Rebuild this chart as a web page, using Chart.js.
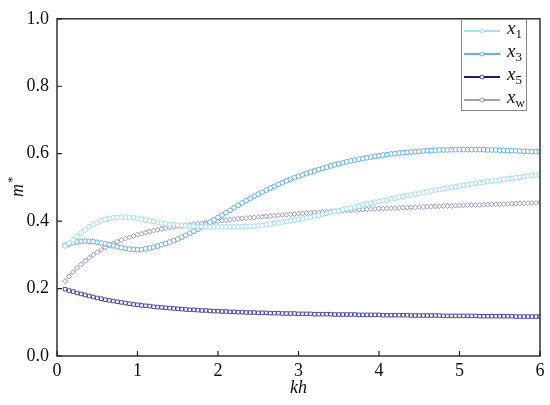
<!DOCTYPE html>
<html>
<head>
<meta charset="utf-8">
<script src="https://cdn.jsdelivr.net/npm/chart.js@4.4.1/dist/chart.umd.min.js"></script>
<style>
html,body{margin:0;padding:0;background:#fff;}
#wrap{width:550px;height:405px;position:relative;}
</style>
</head>
<body>
<div id="wrap"><canvas id="c" width="550" height="405"></canvas></div>
<script>
const kh = [
0.10,0.15,0.20,0.25,0.30,0.35,0.40,0.45,0.50,0.55,
0.60,0.65,0.70,0.75,0.80,0.85,0.90,0.95,1.00,1.05,
1.10,1.15,1.20,1.25,1.30,1.35,1.40,1.45,1.50,1.55,
1.60,1.65,1.70,1.75,1.80,1.85,1.90,1.95,2.00,
2.05,2.10,2.15,2.20,2.25,2.30,2.35,2.40,2.45,2.50,
2.55,2.60,2.65,2.70,2.75,2.80,2.85,2.90,2.95,3.00,
3.05,3.10,3.15,3.20,3.25,3.30,3.35,3.40,3.45,3.50,
3.55,3.60,3.65,3.70,3.75,3.80,3.85,3.90,3.95,4.00,
4.05,4.10,4.15,4.20,4.25,4.30,4.35,4.40,4.45,4.50,
4.55,4.60,4.65,4.70,4.75,4.80,4.85,4.90,4.95,5.00,
5.05,5.10,5.15,5.20,5.25,5.30,5.35,5.40,5.45,5.50,
5.55,5.60,5.65,5.70,5.75,5.80,5.85,5.90,5.95,6.00
];
const x1 = [
.326,.335,.345,.355,.365,.374,.383,.390,.396,.401,
.405,.408,.410,.411,.412,.412,.411,.410,.408,.406,
.403,.401,.399,.396,.394,.392,.390,.389,.388,.387,
.386,.385,.385,.384,.384,.383,.383,.383,.383,
.383,.383,.383,.383,.383,.384,.384,.385,.385,.386,
.387,.389,.391,.393,.395,.397,.399,.401,.403,.405,
.407,.410,.412,.415,.417,.420,.423,.425,.428,.431,
.434,.437,.439,.442,.445,.448,.450,.453,.456,.458,
.461,.463,.466,.468,.471,.473,.476,.478,.480,.483,
.485,.487,.490,.492,.494,.496,.498,.500,.502,.504,
.506,.508,.510,.512,.514,.515,.517,.519,.521,.522,
.524,.526,.527,.529,.530,.532,.534,.535,.537,.538
];
const x3 = [
.328,.332,.336,.338,.340,.341,.340,.339,.337,.335,
.333,.330,.327,.324,.321,.319,.317,.316,.315,.315,
.318,.320,.323,.326,.330,.334,.338,.342,.347,.352,
.358,.364,.370,.376,.383,.390,.397,.404,.411,
.418,.425,.432,.440,.447,.454,.461,.467,.474,.480,
.486,.492,.498,.503,.509,.514,.519,.524,.529,.533,
.537,.541,.545,.549,.553,.557,.560,.564,.567,.570,
.573,.576,.579,.581,.584,.586,.588,.590,.592,.594,
.596,.597,.599,.600,.602,.603,.604,.605,.606,.607,
.608,.609,.609,.610,.611,.611,.611,.612,.612,.612,
.612,.612,.612,.612,.612,.612,.611,.611,.611,.610,
.610,.609,.609,.608,.608,.607,.607,.606,.606,.605
];
const x5 = [
.198,.194,.191,.187,.184,.181,.178,.175,.172,.170,
.167,.165,.163,.161,.159,.157,.155,.153,.152,.150,
.149,.148,.146,.145,.144,.143,.142,.141,.140,.139,
.138,.137,.137,.136,.135,.135,.134,.133,.133,
.132,.132,.131,.131,.130,.130,.129,.129,.129,.128,
.128,.128,.127,.127,.127,.126,.126,.126,.126,.125,
.125,.125,.125,.124,.124,.124,.124,.124,.123,.123,
.123,.123,.123,.123,.122,.122,.122,.122,.122,.122,
.121,.121,.121,.121,.121,.121,.121,.120,.120,.120,
.120,.120,.120,.120,.120,.119,.119,.119,.119,.119,
.119,.119,.119,.119,.118,.118,.118,.118,.118,.118,
.118,.118,.118,.117,.117,.117,.117,.117,.117,.117
];
const xw = [
.222,.236,.249,.261,.272,.282,.291,.300,.308,.315,
.322,.328,.334,.339,.344,.348,.352,.356,.360,.363,
.366,.369,.372,.374,.377,.379,.381,.383,.385,.386,
.388,.389,.391,.392,.394,.395,.397,.398,.400,
.402,.403,.404,.406,.407,.408,.409,.410,.411,.412,
.413,.414,.415,.416,.417,.418,.419,.420,.421,.422,
.423,.424,.425,.426,.426,.427,.428,.429,.430,.430,
.431,.432,.432,.433,.434,.434,.435,.436,.436,.437,
.437,.438,.438,.439,.439,.440,.440,.441,.441,.442,
.442,.443,.443,.444,.444,.445,.445,.445,.446,.446,
.447,.447,.448,.448,.448,.449,.449,.450,.450,.450,
.451,.451,.452,.452,.453,.453,.453,.454,.454,.455
];
const xTicks = [0,1,2,3,4,5,6];
const yTicks = [0.0,0.2,0.4,0.6,0.8,1.0];
const seriesNames = ['1','3','5','w'];
const lineColors = ['#a6e2f4','#6aaef0','#1c1c78','#98a2c2'];
const markColors = ['#96dcf0','#5aa6f0','#3a3aa0','#8c8cbc'];
const markStyles = ['circle','circle','rect','rectRot'];

const seriesVals = [x1,x3,x5,xw];
const datasets = seriesVals.map((vals,i)=>({
  label: 'x' + seriesNames[i],
  data: kh.map((k,j)=>({x:k,y:vals[j]})),
  borderColor: lineColors[i],
  borderWidth: 0.6,
  pointStyle: markStyles[i],
  pointRadius: markStyles[i]==='circle' ? 2.4 : 2.5,
  pointBorderWidth: 0.9,
  pointBorderColor: markColors[i],
  pointBackgroundColor: '#ffffff',
  fill: false,
  tension: 0
}));

const SERIF = '"Liberation Serif", Tinos, "Times New Roman", serif';

const framePlugin = {
  id: 'frame',
  afterDraw(chart){
    const ctx = chart.ctx, a = chart.chartArea;
    const xs = chart.scales.x, ys = chart.scales.y;
    ctx.save();
    ctx.strokeStyle = '#222'; ctx.lineWidth = 1.2;
    ctx.beginPath();
    xTicks.forEach(t=>{ const p = xs.getPixelForValue(t); ctx.moveTo(p, a.bottom); ctx.lineTo(p, a.bottom-5); });
    yTicks.forEach(t=>{ const p = ys.getPixelForValue(t); ctx.moveTo(a.left, p); ctx.lineTo(a.left+5, p); });
    ctx.stroke();
    ctx.strokeStyle = '#222'; ctx.lineWidth = 1.4;
    ctx.strokeRect(a.left, a.top, a.right-a.left, a.bottom-a.top);
    ctx.fillStyle = '#111';
    ctx.font = 'italic 18px ' + SERIF;
    ctx.textAlign = 'center'; ctx.textBaseline = 'alphabetic';
    ctx.fillText('kh', (a.left+a.right)/2, 393);
    ctx.save();
    ctx.translate(23, (a.top+a.bottom)/2);
    ctx.rotate(-Math.PI/2);
    ctx.font = 'italic 18px ' + SERIF;
    ctx.textAlign = 'left';
    const mw = ctx.measureText('m').width;
    ctx.fillText('m', -mw/2-3, 0);
    ctx.font = '13px ' + SERIF;
    ctx.fillText('*', mw/2-2, -7);
    ctx.restore();
    const lx = 461, ly = 19, lw = 65, lh = 91;
    ctx.fillStyle = '#fff';
    ctx.fillRect(lx, ly, lw, lh);
    ctx.strokeStyle = '#888'; ctx.lineWidth = 1;
    ctx.strokeRect(lx+0.5, ly+0.5, lw, lh);
    seriesNames.forEach((n,i)=>{
      const y = 31 + i*23;
      ctx.strokeStyle = lineColors[i]; ctx.lineWidth = 2;
      ctx.beginPath(); ctx.moveTo(464, y); ctx.lineTo(500, y); ctx.stroke();
      ctx.fillStyle = '#fff'; ctx.strokeStyle = markColors[i]; ctx.lineWidth = 0.9;
      ctx.beginPath(); ctx.arc(482, y, 2, 0, Math.PI*2); ctx.fill(); ctx.stroke();
      ctx.fillStyle = '#111';
      ctx.textAlign = 'left'; ctx.textBaseline = 'alphabetic';
      ctx.font = 'italic 19px ' + SERIF;
      ctx.fillText('x', 507, y+3);
      const w = ctx.measureText('x').width;
      ctx.font = (n==='w' ? '' : '') + '13px ' + SERIF;
      ctx.fillText(n, 507+w, y+7);
    });
    ctx.restore();
  }
};

new Chart(document.getElementById('c'), {
  type: 'line',
  data: { datasets },
  options: {
    responsive: false,
    animation: false,
    layout: { padding: { left: 0, right: 10, top: 11, bottom: 0 } },
    plugins: { legend: { display: false }, tooltip: { enabled: false } },
    scales: {
      x: {
        type: 'linear', min: 0, max: 6,
        afterFit: s => { s.height = 49; },
        afterBuildTicks: s => { s.ticks = xTicks.map(v=>({value:v})); },
        grid: { display: false, drawTicks: false },
        border: { display: false },
        ticks: { color: '#111', font: { family: SERIF, size: 18 }, padding: 4, maxRotation: 0,
          callback: v => String(v) }
      },
      y: {
        type: 'linear', min: 0, max: 1,
        afterFit: s => { s.width = 57; },
        afterBuildTicks: s => { s.ticks = yTicks.map(v=>({value:v})); },
        grid: { display: false, drawTicks: false },
        border: { display: false },
        ticks: { color: '#111', font: { family: SERIF, size: 18 }, padding: 8,
          callback: v => Number(v).toFixed(1) }
      }
    }
  },
  plugins: [framePlugin]
});
</script>
</body>
</html>
